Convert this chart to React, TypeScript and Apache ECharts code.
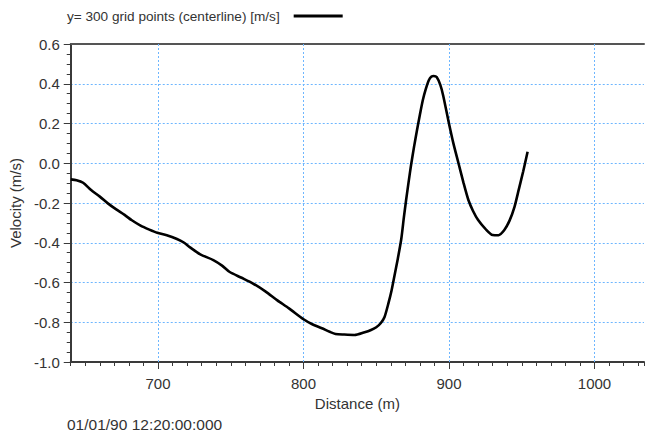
import React, { useEffect, useRef } from "react";
import * as echarts from "echarts";

const seriesName = "y= 300 grid points (centerline) [m/s]";
const timestamp = "01/01/90 12:20:00:000";
const xAxisName = "Distance (m)";
const yAxisName = "Velocity (m/s)";
const xMajorTicks = [700, 800, 900, 1000];

const distance = [
  640, 644, 648.5, 654, 660, 665.5, 671, 677, 682, 688, 694, 699.5, 706, 713, 718, 722, 729, 738, 744, 749,
  757, 765, 774, 782, 790, 800, 806, 812.6, 818, 822, 828, 835, 842, 846, 850, 853, 855.6, 858.5, 860.5, 862.4,
  864.8, 867.2, 869, 870.5, 872.2, 873.9, 876, 878, 880, 882, 884, 886.2, 888, 889.5, 891.5, 894, 896, 899.7, 903,
  906.5, 910, 913.3, 916.5, 920, 925, 930, 934, 938, 941.5, 945, 948, 951, 954,
];
const velocity = [
  -0.081, -0.085, -0.098, -0.135, -0.168, -0.202, -0.231, -0.26, -0.287, -0.314, -0.334, -0.35, -0.362, -0.381,
  -0.4, -0.423, -0.458, -0.487, -0.515, -0.546, -0.575, -0.604, -0.646, -0.69, -0.73, -0.785, -0.81, -0.83,
  -0.848, -0.859, -0.862, -0.864, -0.85, -0.84, -0.825, -0.805, -0.775, -0.7, -0.64, -0.57, -0.48, -0.38, -0.27,
  -0.185, -0.095, -0.009, 0.085, 0.167, 0.245, 0.318, 0.373, 0.419, 0.436, 0.439, 0.434, 0.394, 0.34, 0.209, 0.1,
  0.0, -0.1, -0.185, -0.24, -0.286, -0.33, -0.361, -0.362, -0.336, -0.29, -0.219, -0.13, -0.04, 0.058,
];

const FONT = "'Liberation Sans', Arial, sans-serif";
const GRID_BLUE = "#6db6ff";
const AXIS_COLOR = "#3a3a3a";
const TEXT_COLOR = "#333333";

export default function App() {
  const ref = useRef<HTMLDivElement>(null);
  useEffect(() => {
    if (!ref.current) return;
    const chart = echarts.init(ref.current, null, { renderer: "svg" });
    const xMin = 640;
    const xMax = 1034;
    chart.setOption({
      animation: false,
      textStyle: { fontFamily: FONT },
      legend: {
        show: true,
        left: 67,
        top: 9,
        padding: 0,
        align: "right",
        itemWidth: 49,
        itemHeight: 3,
        icon: "rect",
        textStyle: { fontSize: 13.6, color: TEXT_COLOR, fontFamily: FONT, padding: [0, 9, 0, 0] },
        data: [seriesName],
      },
      grid: { left: 67, top: 44, right: 0, bottom: 72, containLabel: false },
      xAxis: [
        {
          type: "value",
          position: "bottom",
          min: xMin,
          max: xMax,
          interval: 10,
          name: xAxisName,
          nameLocation: "middle",
          nameGap: 34,
          nameTextStyle: { fontSize: 15, color: TEXT_COLOR, fontFamily: FONT },
          axisLine: { show: true, onZero: false, lineStyle: { color: AXIS_COLOR, width: 2 } },
          axisTick: { show: true, length: 4, lineStyle: { color: AXIS_COLOR, width: 1 } },
          axisLabel: {
            margin: 14,
            fontSize: 15,
            color: TEXT_COLOR,
            fontFamily: FONT,
            formatter: (v: number) => (xMajorTicks.some((t) => Math.abs(t - v) < 1e-6) ? String(Math.round(v)) : ""),
          },
          splitLine: { show: false },
        },
        {
          type: "value",
          position: "bottom",
          min: xMin,
          max: xMax,
          axisLine: { show: false, onZero: false },
          axisTick: { show: true, length: 7, customValues: xMajorTicks, lineStyle: { color: AXIS_COLOR, width: 1 } },
          axisLabel: { show: false },
          splitLine: { show: false },
        },
        {
          type: "value",
          position: "top",
          min: xMin,
          max: xMax,
          axisLine: { show: true, onZero: false, lineStyle: { color: "#555555", width: 2 } },
          axisTick: { show: false },
          axisLabel: { show: false },
          splitLine: { show: false },
        },
      ],
      yAxis: [
        {
          type: "value",
          position: "left",
          min: -1.0,
          max: 0.6,
          interval: 0.2,
          name: yAxisName,
          nameLocation: "middle",
          nameGap: 42,
          nameTextStyle: { fontSize: 15, color: TEXT_COLOR, fontFamily: FONT },
          axisLine: { show: true, onZero: false, lineStyle: { color: AXIS_COLOR, width: 2 } },
          axisTick: { show: true, length: 7, lineStyle: { color: AXIS_COLOR, width: 1 } },
          minorTick: { show: true, splitNumber: 4, length: 4, lineStyle: { color: AXIS_COLOR, width: 1 } },
          axisLabel: {
            margin: 11,
            fontSize: 15,
            color: TEXT_COLOR,
            fontFamily: FONT,
            formatter: (v: number) => v.toFixed(1),
          },
          splitLine: { show: true, lineStyle: { color: GRID_BLUE, type: [2, 2], width: 1 } },
        },
      ],
      graphic: [
        {
          type: "text",
          left: 67,
          top: 416,
          style: { text: timestamp, fontSize: 15.5, fill: TEXT_COLOR, fontFamily: FONT },
        },
      ],
      series: [
        {
          name: seriesName,
          type: "line",
          xAxisIndex: 0,
          yAxisIndex: 0,
          data: distance.map((d, i) => [d, velocity[i]]),
          showSymbol: false,
          symbol: "none",
          smooth: 0.25,
          lineStyle: { color: "#000000", width: 2.6 },
          itemStyle: { color: "#000000" },
          z: 5,
          markLine: {
            silent: true,
            symbol: ["none", "none"],
            label: { show: false },
            lineStyle: { color: GRID_BLUE, type: [2, 2], width: 1 },
            data: xMajorTicks.map((v) => ({ xAxis: v })),
            z: 1,
          },
        },
      ],
    });
    return () => chart.dispose();
  }, []);
  return (
    <div
      ref={ref}
      style={{ position: "absolute", left: 0, top: 0, width: 647, height: 434, background: "#ffffff" }}
    />
  );
}
